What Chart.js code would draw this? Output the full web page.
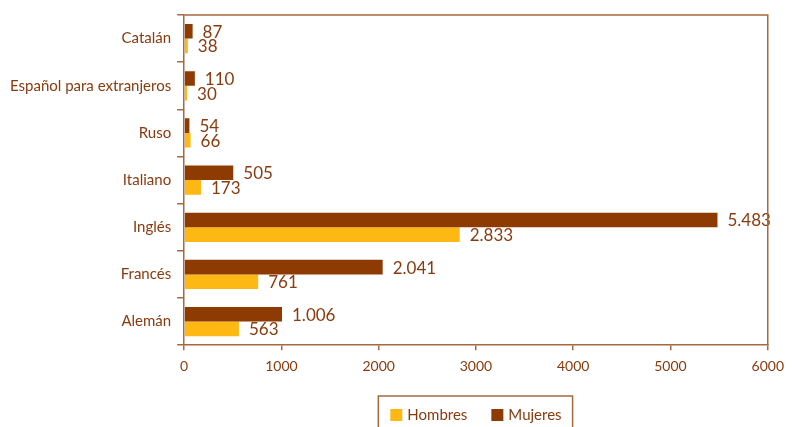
<!DOCTYPE html>
<html>
<head>
<meta charset="utf-8">
<script src="https://cdn.jsdelivr.net/npm/chart.js@4"></script>
<style>
  html, body { margin: 0; padding: 0; background: #fff; }
</style>
</head>
<body>
<canvas id="chartIdiomas" width="792" height="427"></canvas>
<script>
var idiomas = ['Catalán', 'Español para extranjeros', 'Ruso', 'Italiano', 'Inglés', 'Francés', 'Alemán'];
var mujeres = [87, 110, 54, 505, 5483, 2041, 1006];
var hombres = [38, 30, 66, 173, 2833, 761, 563];
var xTicks = [0, 1000, 2000, 3000, 4000, 5000, 6000];

var textColor = '#8B3A0E';
var axisColor = '#A8683E';
var fontFamily = 'Lato, "Open Sans", sans-serif';

function formatNumber(v) {
  return String(v).replace(/\B(?=(\d{3})+(?!\d))/g, '.');
}

// labels at the end of each bar
var barLabels = {
  id: 'barLabels',
  afterDatasetsDraw: function (chart) {
    var ctx = chart.ctx;
    ctx.save();
    ctx.fillStyle = textColor;
    ctx.font = '17px ' + fontFamily;
    ctx.textBaseline = 'middle';
    ctx.textAlign = 'left';
    chart.data.datasets.forEach(function (ds, i) {
      chart.getDatasetMeta(i).data.forEach(function (bar, j) {
        ctx.fillText(formatNumber(ds.data[j]), bar.x + 10, bar.y + 1);
      });
    });
    ctx.restore();
  }
};

// top/right border of the plot and a boxed legend centred under the plot
var frame = {
  id: 'frame',
  afterDraw: function (chart) {
    var ctx = chart.ctx;
    var a = chart.chartArea;
    ctx.save();
    ctx.strokeStyle = axisColor;
    ctx.lineWidth = 1.5;
    ctx.beginPath();
    ctx.moveTo(a.left, a.top);
    ctx.lineTo(a.right, a.top);
    ctx.lineTo(a.right, a.bottom);
    ctx.stroke();

    // legend: Hombres first, then Mujeres
    var items = chart.data.datasets.slice().reverse();
    ctx.font = '15px ' + fontFamily;
    var box = 12, gapText = 5, gapItem = 24;
    var total = 0;
    items.forEach(function (ds, i) {
      total += box + gapText + ctx.measureText(ds.label).width;
      if (i < items.length - 1) total += gapItem;
    });
    var x = (a.left + a.right) / 2 - total / 2;
    var cy = 415;
    ctx.beginPath();
    ctx.moveTo(x - 12, chart.height + 2);
    ctx.lineTo(x - 12, 396);
    ctx.lineTo(x + total + 11, 396);
    ctx.lineTo(x + total + 11, chart.height + 2);
    ctx.stroke();
    ctx.textBaseline = 'middle';
    ctx.textAlign = 'left';
    items.forEach(function (ds) {
      ctx.fillStyle = ds.backgroundColor;
      ctx.fillRect(x, cy - box / 2, box, box);
      x += box + gapText;
      ctx.fillStyle = textColor;
      ctx.fillText(ds.label, x, cy);
      x += ctx.measureText(ds.label).width + gapItem;
    });
    ctx.restore();
  }
};

new Chart(document.getElementById('chartIdiomas'), {
  type: 'bar',
  data: {
    labels: idiomas,
    datasets: [
      {
        label: 'Mujeres',
        data: mujeres,
        backgroundColor: '#8E3B03',
        categoryPercentage: 0.62,
        barPercentage: 1
      },
      {
        label: 'Hombres',
        data: hombres,
        backgroundColor: '#FDB813',
        categoryPercentage: 0.62,
        barPercentage: 1
      }
    ]
  },
  options: {
    indexAxis: 'y',
    responsive: false,
    animation: false,
    layout: {
      padding: { top: 13, left: 4, right: 0, bottom: 44 }
    },
    plugins: {
      legend: { display: false },
      tooltip: { enabled: false }
    },
    scales: {
      x: {
        min: 0,
        max: 6000,
        afterBuildTicks: function (axis) {
          axis.ticks = xTicks.map(function (v) { return { value: v }; });
        },
        ticks: {
          color: textColor,
          font: { family: fontFamily, size: 14 },
          padding: 8,
          maxRotation: 0,
          callback: function (value) { return String(value); }
        },
        grid: {
          drawOnChartArea: false,
          color: axisColor,
          tickLength: 5,
          lineWidth: 1.5
        },
        border: { color: axisColor, width: 1.5 }
      },
      y: {
        ticks: {
          color: textColor,
          font: { family: fontFamily, size: 15 },
          padding: 6
        },
        grid: {
          drawOnChartArea: false,
          color: axisColor,
          tickLength: 7,
          lineWidth: 1.5
        },
        border: { color: axisColor, width: 1.5 }
      }
    }
  },
  plugins: [barLabels, frame]
});
</script>
</body>
</html>
